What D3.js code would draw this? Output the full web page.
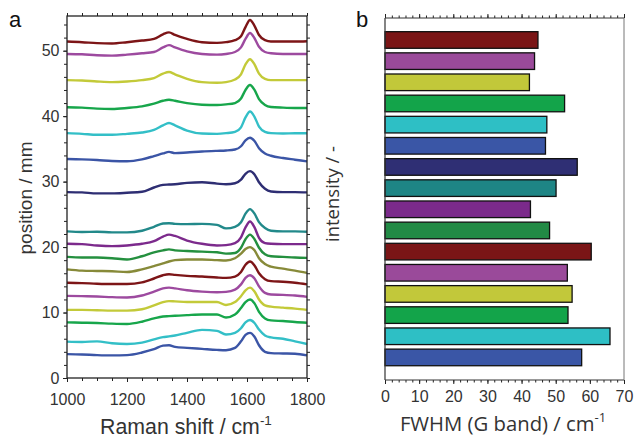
<!DOCTYPE html>
<html><head><meta charset="utf-8">
<script src="https://cdn.jsdelivr.net/npm/d3@7"></script>
<style>body{margin:0;background:#fff}svg{display:block}</style>
</head><body>
<script>
// ---- data ----
const wavenumbers = [1000,1050,1100,1150,1200,1250,1290,1320,1340,1360,1400,1450,1500,1530,1560,1580,1595,1610,1625,1640,1660,1680,1720,1760,1800];
// spectra, bottom to top
const spec01 = [3.65,3.6,3.5,3.45,3.5,3.9,4.4,4.95,5.0,4.75,4.6,4.45,4.3,4.25,4.6,5.6,6.6,6.9,6.3,5.0,4.0,3.8,3.75,3.7,3.45];
const spec02 = [5.55,5.5,5.6,5.3,5.2,5.4,5.9,6.25,6.35,6.5,6.9,7.35,7.2,6.65,6.9,7.6,8.5,8.85,8.4,7.4,6.5,6.2,6.0,5.6,5.2];
const spec03 = [8.5,8.45,8.4,8.3,8.25,8.6,9.1,9.4,9.45,9.5,9.6,9.7,9.7,9.25,9.7,10.7,11.6,12.0,11.4,10.1,9.1,8.8,8.7,8.55,8.45];
const spec04 = [10.4,10.4,10.35,10.3,10.3,10.5,11.1,11.6,11.75,11.7,11.6,11.6,11.6,11.15,11.6,12.5,13.4,13.8,13.2,12.0,11.1,10.9,10.75,10.6,10.4];
const spec05 = [12.55,12.5,12.45,12.35,12.3,12.6,13.2,13.7,13.8,13.7,13.4,13.2,13.1,13.15,13.5,14.3,15.3,15.7,15.2,14.0,13.0,12.75,12.7,12.6,12.4];
const spec06 = [14.55,14.5,14.4,14.35,14.35,14.6,15.2,15.7,15.85,15.75,15.6,15.5,15.35,15.3,15.5,16.2,17.3,17.8,17.2,16.0,15.1,14.8,14.7,14.55,14.3];
const spec07 = [16.6,16.4,16.35,16.3,16.2,16.6,17.1,17.5,17.8,18.0,18.1,18.1,18.0,17.95,18.3,19.0,19.7,20.0,19.5,18.3,17.4,17.0,16.7,16.4,16.05];
const spec08 = [18.5,18.4,18.4,18.3,18.1,18.6,19.2,19.5,19.65,19.5,19.4,19.3,19.2,19.0,19.1,19.9,21.2,21.9,21.2,19.9,18.9,18.6,18.5,18.4,18.35];
const spec09 = [20.5,20.45,20.25,20.15,20.25,20.5,20.9,21.6,21.9,21.7,21.0,20.5,20.25,20.3,20.6,21.5,23.0,23.9,23.0,21.4,20.6,20.5,20.45,20.45,20.45];
const spec10 = [22.4,22.3,22.35,22.25,22.25,22.5,23.1,23.6,23.65,23.55,23.5,23.55,23.4,22.85,23.1,23.8,25.1,25.8,25.1,23.8,22.9,22.5,22.4,22.4,22.35];
const spec11 = [28.4,28.35,28.2,28.2,28.3,28.45,29.1,29.5,29.55,29.6,29.8,29.9,29.7,29.6,29.75,30.3,31.2,31.6,31.1,29.9,28.9,28.5,28.4,28.4,28.35];
const spec12 = [33.45,33.4,33.3,33.15,33.1,33.4,33.9,34.3,34.55,34.35,34.45,34.6,34.7,34.75,34.9,35.4,36.3,36.7,36.2,35.1,34.3,33.95,33.6,33.35,33.1];
const spec13 = [37.4,37.3,37.15,37.15,37.3,37.5,37.9,38.6,38.95,38.6,37.8,37.35,37.3,37.4,37.6,38.3,39.8,40.7,39.9,38.4,37.6,37.4,37.35,37.4,37.4];
const spec14 = [41.35,41.3,41.15,41.1,41.25,41.5,41.9,42.35,42.5,42.35,42.0,41.75,41.7,41.8,42.0,42.7,44.0,44.75,44.0,42.6,41.7,41.4,41.3,41.25,41.25];
const spec15 = [45.5,45.45,45.3,45.2,45.3,45.5,45.8,46.5,46.75,46.4,45.7,45.2,45.1,45.2,45.6,46.4,47.9,48.7,47.9,46.5,45.7,45.5,45.5,45.5,45.5];
const spec16 = [49.5,49.45,49.3,49.25,49.4,49.6,49.8,50.5,50.85,50.5,49.9,49.5,49.4,49.5,49.8,50.5,51.8,52.7,51.9,50.6,49.8,49.6,49.5,49.5,49.5];
const spec17 = [51.4,51.3,51.15,51.1,51.3,51.55,51.8,52.5,52.8,52.4,51.8,51.3,51.2,51.3,51.6,52.2,53.6,54.7,53.8,52.4,51.6,51.4,51.4,51.4,51.45];
const spectra = [spec01,spec02,spec03,spec04,spec05,spec06,spec07,spec08,spec09,spec10,spec11,spec12,spec13,spec14,spec15,spec16,spec17];
const spectraColors = ["#3b55a6","#33bfc7","#17a64b","#c3ca39","#9d4a9f","#7d1517","#878a39","#24903f","#7c2a8c","#22898a","#2e2e73","#3b55a6","#33bfc7","#17a64b","#c3ca39","#9d4a9f","#7d1517"];

// bars, bottom to top
const fwhm = [57.6,65.9,53.6,54.8,53.4,60.4,48.2,42.6,50.1,56.3,47.0,47.4,52.6,42.3,43.8,44.8];
const barColors = ["#3a56a6","#2ebfc5","#13a44a","#c2c83a","#9a4a9a","#7a1516","#228a45","#7b2a8b","#1e8585","#2f2f74","#3a56a6","#2ebfc5","#13a44a","#c2c83a","#9a4a9a","#7a1516"];

const xTicksA = [1000,1200,1400,1600,1800];
const yTicksA = [0,10,20,30,40,50];
const xTicksB = [0,10,20,30,40,50,60,70];

// ---- drawing ----
const W = 637, H = 439;
const svg = d3.select("body").append("svg").attr("width", W).attr("height", H);
const tickFont = "'Liberation Sans', Arial, sans-serif";
const txtCol = "#333";

// Panel a
const ax = d3.scaleLinear().domain([1000,1800]).range([67,307]);
const ay = d3.scaleLinear().domain([0,55.3]).range([378,16]);

function styleAxis(g, fs) {
  g.selectAll(".domain").remove();
  g.selectAll("line").attr("stroke","#222").attr("stroke-width",1);
  g.selectAll("text").attr("font-family",tickFont).attr("font-size",fs).attr("fill",txtCol);
}

svg.append("g").attr("transform","translate(0,378)")
  .call(d3.axisBottom(ax).tickValues(d3.range(1000,1801,50)).tickSize(3).tickFormat(""))
  .call(g=>styleAxis(g,16));
svg.append("g").attr("transform","translate(0,16)")
  .call(d3.axisTop(ax).tickValues(d3.range(1000,1801,50)).tickSize(3).tickFormat(""))
  .call(g=>styleAxis(g,16));
svg.append("g").attr("transform","translate(0,378)")
  .call(d3.axisBottom(ax).tickValues(xTicksA).tickSize(4).tickPadding(11.5).tickFormat(d3.format("d")))
  .call(g=>styleAxis(g,16));
svg.append("g").attr("transform","translate(67,0)")
  .call(d3.axisLeft(ay).tickValues(d3.range(0,55,2)).tickSize(3).tickFormat(""))
  .call(g=>styleAxis(g,16));
svg.append("g").attr("transform","translate(307,0)")
  .call(d3.axisRight(ay).tickValues(d3.range(0,55,2)).tickSize(3).tickFormat(""))
  .call(g=>styleAxis(g,16));
svg.append("g").attr("transform","translate(67,0)")
  .call(d3.axisLeft(ay).tickValues(yTicksA).tickSize(4).tickPadding(3.5))
  .call(g=>styleAxis(g,16));

const line = d3.line().x((d,i)=>ax(wavenumbers[i])).y(d=>ay(d)).curve(d3.curveMonotoneX);
svg.append("g").selectAll("path").data(spectra).join("path")
  .attr("d", line).attr("fill","none")
  .attr("stroke",(d,i)=>spectraColors[i]).attr("stroke-width",2.4)
  .attr("stroke-linejoin","round");

svg.append("rect").attr("x",67).attr("y",16).attr("width",240).attr("height",362)
  .attr("fill","none").attr("stroke","#222").attr("stroke-width",1.3);

svg.append("text").attr("x",9).attr("y",27).text("a")
  .attr("font-family",tickFont).attr("font-size",22).attr("fill","#111");

svg.append("text").attr("transform","translate(32,198) rotate(-90)")
  .attr("text-anchor","middle").attr("font-family",tickFont).attr("font-size",19).attr("fill",txtCol)
  .text("position / mm");

const xl = svg.append("text").attr("x",186).attr("y",434).attr("text-anchor","middle")
  .attr("font-family",tickFont).attr("font-size",21.3).attr("fill",txtCol);
xl.append("tspan").text("Raman shift / cm");
xl.append("tspan").attr("font-size",13.5).attr("dy",-9.5).text("-1");

// Panel b
const bx = d3.scaleLinear().domain([0,70]).range([385,624]);
const by = d3.scaleBand().domain(d3.range(fwhm.length)).range([368,29.4]).paddingInner(0.215).paddingOuter(0.1075);

svg.append("g").attr("transform","translate(0,380)")
  .call(d3.axisBottom(bx).tickValues(d3.range(0,71,2)).tickSize(2.5).tickFormat(""))
  .call(g=>styleAxis(g,16));
svg.append("g").attr("transform","translate(0,18)")
  .call(d3.axisTop(bx).tickValues(d3.range(0,71,2)).tickSize(2.5).tickFormat(""))
  .call(g=>styleAxis(g,16));
svg.append("g").attr("transform","translate(0,380)")
  .call(d3.axisBottom(bx).tickValues(xTicksB).tickSize(4).tickPadding(6.5))
  .call(g=>styleAxis(g,16));
svg.append("g").attr("transform","translate(0,18)")
  .call(d3.axisTop(bx).tickValues(xTicksB).tickSize(4).tickFormat(""))
  .call(g=>styleAxis(g,16));

svg.append("g").selectAll("rect").data(fwhm).join("rect")
  .attr("x",bx(0)).attr("y",(d,i)=>by(i))
  .attr("width",d=>bx(d)-bx(0)).attr("height",by.bandwidth())
  .attr("fill",(d,i)=>barColors[i]).attr("stroke","#111").attr("stroke-width",1.3);

svg.append("line").attr("x1",385).attr("x2",624).attr("y1",18).attr("y2",18).attr("stroke","#333").attr("stroke-width",1);
svg.append("line").attr("x1",385).attr("x2",624).attr("y1",380).attr("y2",380).attr("stroke","#333").attr("stroke-width",1);
svg.append("line").attr("x1",385).attr("x2",385).attr("y1",18).attr("y2",380).attr("stroke","#333").attr("stroke-width",1.2);
svg.append("line").attr("x1",624).attr("x2",624).attr("y1",18).attr("y2",380).attr("stroke","#777").attr("stroke-width",1);

svg.append("text").attr("x",356).attr("y",27).text("b")
  .attr("font-family",tickFont).attr("font-size",22).attr("fill","#111");

svg.append("text").attr("transform","translate(339,194) rotate(-90)")
  .attr("text-anchor","middle").attr("font-family","'Open Sans', sans-serif").attr("font-size",18.5).attr("fill",txtCol)
  .text("intensity / -");

const bl = svg.append("text").attr("x",503).attr("y",431).attr("text-anchor","middle")
  .attr("font-family","'Open Sans', sans-serif").attr("font-size",20.3).attr("fill",txtCol);
bl.append("tspan").text("FWHM (G band) / cm");
bl.append("tspan").attr("font-size",13).attr("dy",-9).text("-1");
</script>
</body></html>
